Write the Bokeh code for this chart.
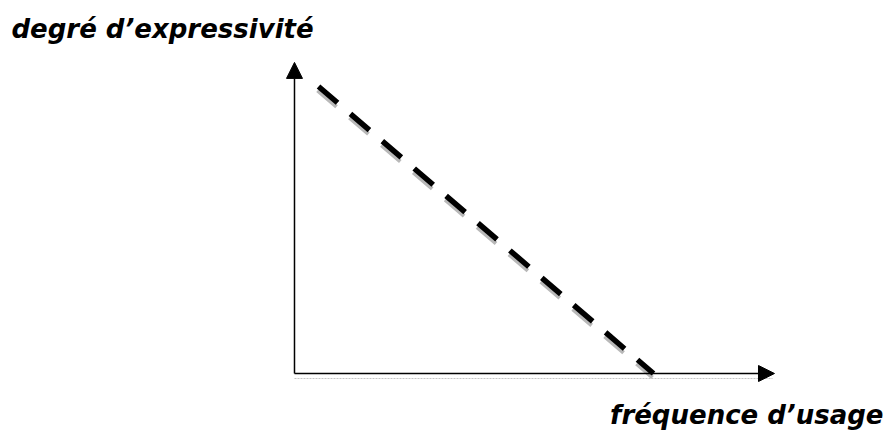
from bokeh.plotting import figure
from bokeh.models import Arrow, NormalHead, Label, Range1d
from bokeh.embed import file_html
from bokeh.resources import INLINE

# Conceptual data: expressivity decreases as frequency of use increases
frequence = [6.7, 100.0]
expressivite = [100.0, 0.0]
x_label = "fréquence d’usage"
y_label = "degré d’expressivité"
axis_x_max = 133.7
axis_y_max = 108.4

W, H = 886, 430
X0, X1 = -81.89, 164.90
Y0, Y1 = -19.86, 129.97
p = figure(width=W, height=H, output_backend="svg", toolbar_location=None,
           x_range=Range1d(X0, X1), y_range=Range1d(Y0, Y1),
           min_border=0, outline_line_color=None)
p.axis.visible = False
p.grid.visible = False
p.background_fill_color = "white"
p.border_fill_color = "white"

# pixel-per-unit helpers for shadow offsets
px_x = (X1 - X0) / W
px_y = (Y1 - Y0) / H

# x-axis shadow
p.line([0, axis_x_max - 2 * px_x], [-5 * px_y, -5 * px_y], line_color="#c4c4c4",
       line_width=1.2, line_dash="2 1")

# dashed line shadow
p.line([v - 1 * px_x for v in frequence], [v - 4 * px_y for v in expressivite],
       line_color="#b8b8b8", line_width=4, line_dash="25 17", line_cap="butt")
# dashed line
p.line(frequence, expressivite, line_color="black", line_width=5.5,
       line_dash="25 17", line_cap="butt")

# axes with arrows
p.add_layout(Arrow(end=NormalHead(size=16, fill_color="black", line_color="black"),
                   x_start=0, y_start=0, x_end=axis_x_max, y_end=0,
                   line_color="black", line_width=1.5))
p.add_layout(Arrow(end=NormalHead(size=16, fill_color="black", line_color="black"),
                   x_start=0, y_start=0, x_end=0, y_end=axis_y_max,
                   line_color="black", line_width=1.5))

p.add_layout(Label(x=11, y=H - 28, x_units="screen", y_units="screen", text=y_label,
                   text_font="DejaVu Sans", text_font_style="bold italic",
                   text_color="black",
                   text_font_size="26px", text_baseline="alphabetic", text_align="left"))
p.add_layout(Label(x=883, y=16, x_units="screen", y_units="screen", text=x_label,
                   text_font="DejaVu Sans", text_font_style="bold italic",
                   text_color="black",
                   text_font_size="26px", text_baseline="alphabetic", text_align="right"))

open("out.html", "w").write(file_html(p, INLINE))
